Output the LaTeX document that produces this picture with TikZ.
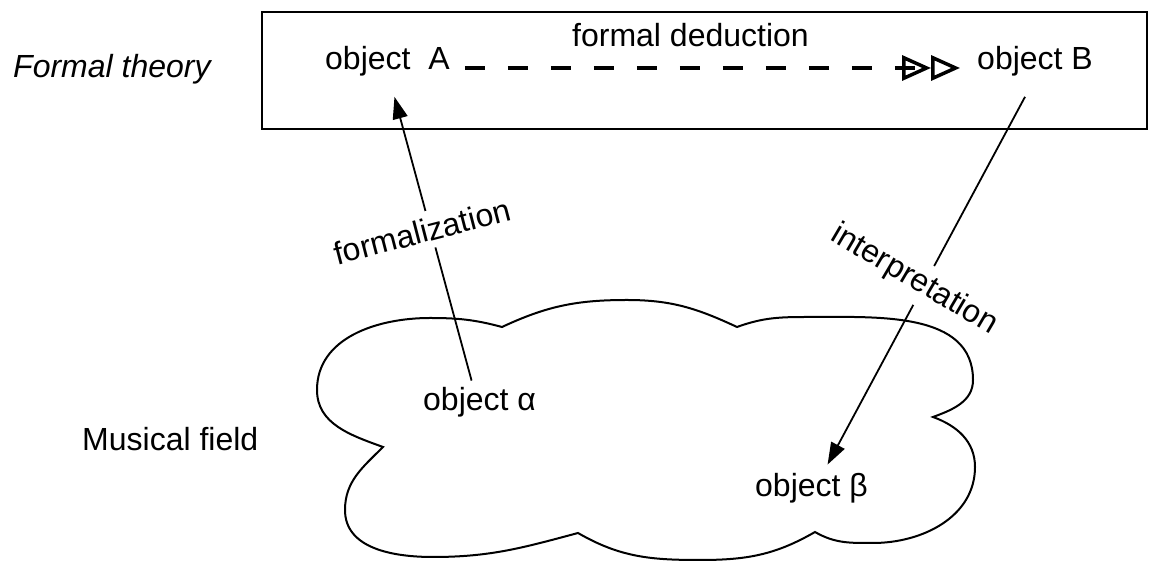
\documentclass[tikz,border=0pt]{standalone}
\usepackage{fontspec}
\setmainfont{Liberation Sans}
\usetikzlibrary{arrows.meta}
\begin{document}
\begin{tikzpicture}[x=1pt,y=1pt,
  txt/.style={inner sep=0pt, font=\fontsize{32}{38}\selectfont, anchor=base west},
  lbl/.style={font=\fontsize{32}{38}\selectfont, anchor=base, fill=white, inner xsep=1pt, inner ysep=7pt},
  thinline/.style={line width=1.8pt, draw=black},
  arr/.style={thinline, -{Triangle[length=22pt,width=15pt]}},
  deduction/.style={line width=4pt, dash pattern=on 20pt off 23pt,
     -{Triangle[open,length=29pt,width=25pt,line width=3.5pt,sep=0pt]Triangle[open,length=29pt,width=25pt,line width=3.5pt]}},
  frame/.style={line width=2.4pt},
  cloud/.style={line width=2pt}
]
\useasboundingbox (0,0) rectangle (1149,561);
% frame
\draw[frame] (262,432) rectangle (1147,549);
% texts
\node[txt, font=\fontsize{32}{38}\selectfont\itshape] (ft) at (13,483) {Formal theory};
\node[txt] (A) at (325,491) {object\ \ A};
\node[txt] (fd) at (572,514) {formal deduction};
\node[txt] (B) at (977,491) {object B};
\node[txt] (mf) at (82,110) {Musical field};
% cloud
\draw[cloud] (383,114) to[out=160,in=-90] (317,171)
  to[out=90,in=180] (430,243)
  to[out=0,in=165] (502,234)
  to[out=25,in=180] (627,261)
  to[out=0,in=155] (737,234)
  to[out=20,in=180] (810,244)
  to[out=0,in=90] (973,181)
  to[out=-90,in=20] (933,144)
  to[out=-20,in=90] (975,94)
  to[out=-90,in=0] (873,18)
  to[out=180,in=-30] (815,29)
  to[out=210,in=0] (700,1)
  to[out=180,in=-30] (578,28)
  to[out=195,in=0] (433,4)
  to[out=180,in=-90] (345,51)
  to[out=90,in=225] (383,114) -- cycle;
\node[txt] (alpha) at (423,150) {object α};
\node[txt] (beta) at (755,64) {object β};
% connectors
\draw[deduction] ([shift={(15,2)}]A.base east) -- ([shift={(-17,2)}]B.base west);
\draw[arr] ([shift={(-8,7)}]alpha.north) -- ([shift={(7,-20)}]A.south);
\draw[arr] ([shift={(-10,-20)}]B.south) -- ([shift={(16,9)}]beta.north);
% labels
\node[lbl, rotate=14.5] (lf) at (425,318.5) {formalization};
\node[lbl, rotate=-30.5] (li) at (910,274) {interpretation};
\end{tikzpicture}
\end{document}
